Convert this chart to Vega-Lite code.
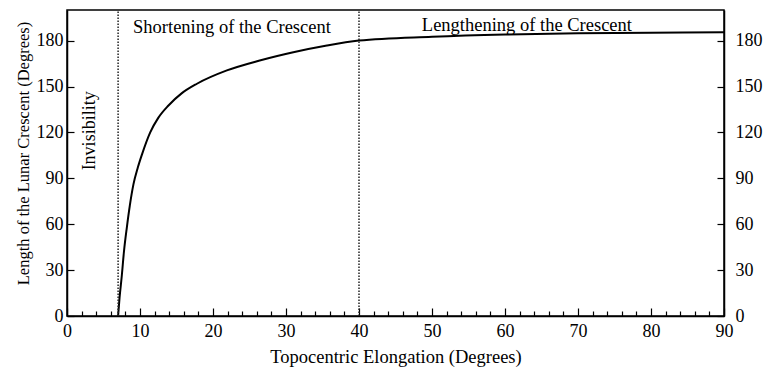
{
  "$schema": "https://vega.github.io/schema/vega-lite/v6.json",
  "width": 657,
  "height": 306,
  "autosize": {"type": "none"},
  "padding": {"left": 67, "top": 10, "right": 42, "bottom": 56},
  "background": "white",
  "config": {
    "font": "Liberation Serif",
    "view": {"stroke": "black", "strokeWidth": 1.5},
    "axis": {
      "domainColor": "black", "domainWidth": 1.5, "tickColor": "black", "tickWidth": 1.2, "grid": false,
      "labelFont": "Liberation Serif", "labelFontSize": 18, "labelColor": "black",
      "titleFont": "Liberation Serif", "titleFontSize": 18.5, "titleFontWeight": "normal", "titleColor": "black",
      "labelOverlap": false
    }
  },
  "datasets": {
    "curve": [
      {"elong": 7.0, "len": 0},
      {"elong": 7.2, "len": 12},
      {"elong": 7.5, "len": 26},
      {"elong": 7.8, "len": 42},
      {"elong": 8.2, "len": 58},
      {"elong": 8.6, "len": 72},
      {"elong": 9.1, "len": 86},
      {"elong": 9.7, "len": 97},
      {"elong": 10.3, "len": 106},
      {"elong": 11.4, "len": 120},
      {"elong": 12.5, "len": 129.5},
      {"elong": 13.9, "len": 137.6},
      {"elong": 15.7, "len": 145.5},
      {"elong": 17.8, "len": 151.8},
      {"elong": 21.9, "len": 160.5},
      {"elong": 26.4, "len": 167},
      {"elong": 31.0, "len": 172.4},
      {"elong": 35.6, "len": 176.8},
      {"elong": 40.0, "len": 180},
      {"elong": 50.0, "len": 182.5},
      {"elong": 60.0, "len": 184},
      {"elong": 70.0, "len": 184.8},
      {"elong": 80.0, "len": 185.2},
      {"elong": 90.0, "len": 185.5}
    ],
    "bounds": [{"elong": 7}, {"elong": 40}],
    "phases": [
      {"elong": 22.6, "len": 189, "label": "Shortening of the Crescent"},
      {"elong": 63, "len": 190, "label": "Lengthening of the Crescent"}
    ],
    "invis": [{"elong": 3.2, "len": 121, "label": "Invisibility"}]
  },
  "layer": [
    {
      "data": {"name": "curve"},
      "mark": {"type": "line", "color": "black", "strokeWidth": 2, "interpolate": "monotone"},
      "encoding": {
        "x": {
          "field": "elong", "type": "quantitative",
          "scale": {"domain": [0, 90], "nice": false},
          "axis": {
            "title": "Topocentric Elongation (Degrees)",
            "values": [0, 10, 20, 30, 40, 50, 60, 70, 80, 90],
            "ticks": false,
            "labelPadding": 6,
            "labelFlush": false,
            "titlePadding": 7
          }
        },
        "y": {
          "field": "len", "type": "quantitative",
          "scale": {"domain": [0, 200], "nice": false},
          "axis": {
            "title": "Length of the Lunar Crescent (Degrees)",
            "titleFontSize": 16.5,
            "titleY": 143,
            "values": [0, 30, 60, 90, 120, 150, 180],
            "ticks": false,
            "labelPadding": 4,
            "titlePadding": 5
          }
        }
      }
    },
    {
      "data": {"name": "bounds"},
      "mark": {"type": "rule", "color": "#222", "strokeWidth": 1.5, "strokeDash": [1.5, 1.5]},
      "encoding": {
        "x": {
          "field": "elong", "type": "quantitative",
          "axis": {
            "orient": "top", "offset": -306, "title": null, "labels": false, "domain": false,
            "values": [0,2,4,6,8,10,12,14,16,18,20,22,24,26,28,30,32,34,36,38,40,42,44,46,48,50,52,54,56,58,60,62,64,66,68,70,72,74,76,78,80,82,84,86,88,90],
            "tickSize": {"condition": {"test": "datum.value % 10 === 0", "value": 8}, "value": 5}
          }
        },
        "y": {
          "datum": 0, "type": "quantitative",
          "axis": {
            "orient": "right", "offset": -657, "title": null, "labels": false, "domain": false,
            "values": [0, 30, 60, 90, 120, 150, 180],
            "tickSize": 7
          }
        },
        "y2": {"datum": 200}
      }
    },
    {
      "data": {"name": "phases"},
      "mark": {"type": "text", "font": "Liberation Serif", "fontSize": 18.5, "color": "black", "align": "center", "baseline": "middle"},
      "encoding": {
        "x": {"field": "elong", "type": "quantitative", "axis": null},
        "y": {
          "field": "len", "type": "quantitative",
          "axis": {
            "orient": "right", "title": null,
            "values": [0, 30, 60, 90, 120, 150, 180],
            "ticks": false,
            "labelPadding": 11
          }
        },
        "text": {"field": "label"}
      }
    },
    {
      "data": {"name": "invis"},
      "mark": {"type": "text", "font": "Liberation Serif", "fontSize": 18, "color": "black", "align": "center", "baseline": "middle", "angle": 270},
      "encoding": {
        "x": {"field": "elong", "type": "quantitative", "axis": null},
        "y": {
          "field": "len", "type": "quantitative",
          "axis": {
            "orient": "left", "offset": -657, "title": null, "labels": false, "domain": false,
            "values": [0, 30, 60, 90, 120, 150, 180],
            "tickSize": 7
          }
        },
        "text": {"field": "label"}
      }
    }
  ],
  "resolve": {"axis": {"x": "independent", "y": "independent"}}
}
